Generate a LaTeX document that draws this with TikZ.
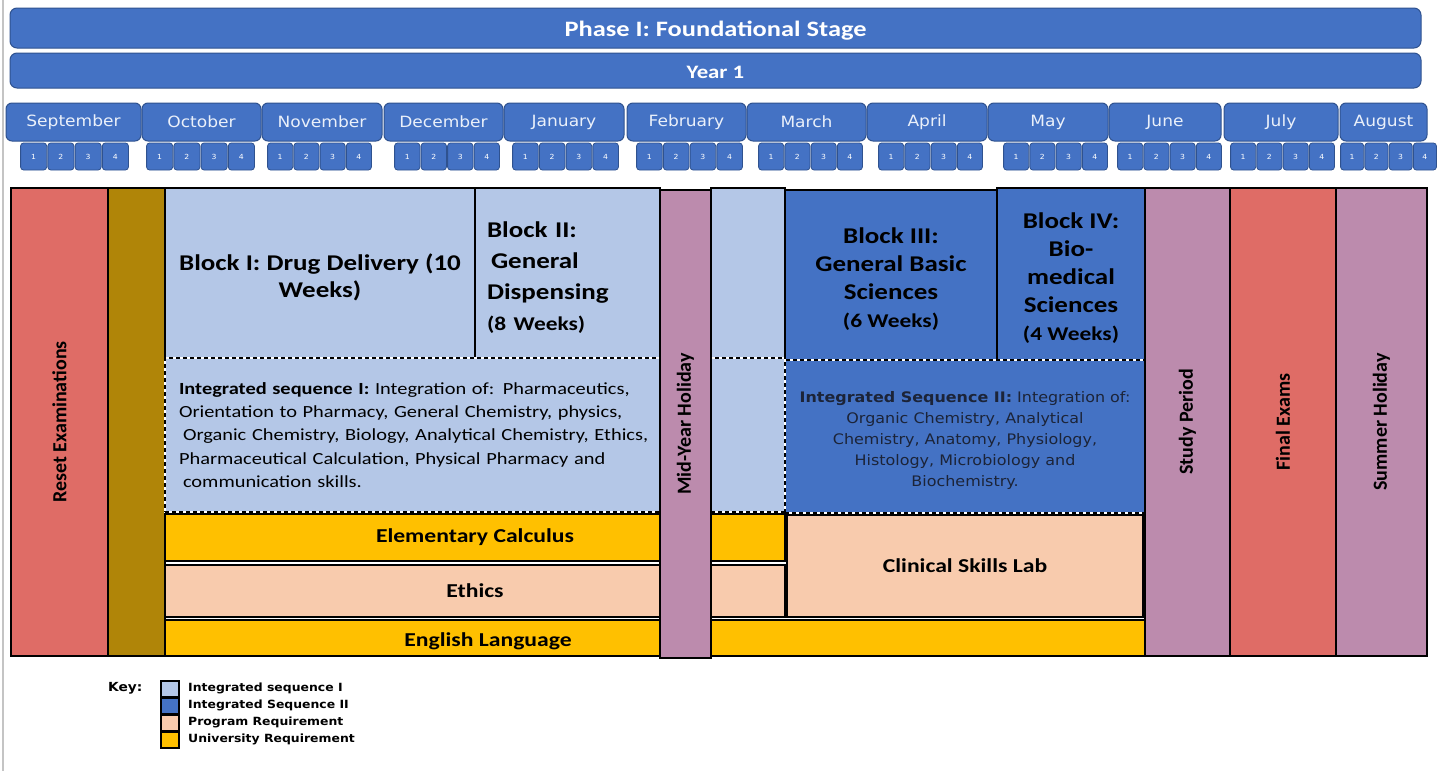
\documentclass[tikz,border=0pt]{standalone}
\usepackage{fontspec}
\setmainfont{Carlito}[FakeStretch=1.2]
\newfontfamily\rotf{Carlito}
\newfontfamily\dvf{DejaVu Sans}[FakeStretch=1.1]
\definecolor{hblue}{HTML}{4472C4}
\definecolor{hborder}{HTML}{2F528F}
\definecolor{lblue}{HTML}{B4C7E7}
\definecolor{dblue}{HTML}{4472C4}
\definecolor{peach}{HTML}{F8CBAD}
\definecolor{gold}{HTML}{FFC000}
\definecolor{salmon}{HTML}{DF6C66}
\definecolor{olivec}{HTML}{B08508}
\definecolor{mauve}{HTML}{BC8BAD}
\definecolor{montext}{HTML}{EAF0FA}
\definecolor{seqtext}{HTML}{1C2438}
\definecolor{edgegray}{HTML}{C4C4C4}
\newcommand{\fsz}[2]{\fontsize{#1}{#2}\selectfont}
\newcommand{\cellat}[7]{\node[#2, minimum width={#5-#3}, minimum height={#6-#4}] (#1) at (#3,#4) {#7};}
\begin{document}
\begin{tikzpicture}[x=1pt,y=-1pt,
  cell/.style={draw=black, line width=1.2pt, inner sep=0pt, outer sep=0pt, anchor=north west, align=center},
  dcell/.style={cell, draw=white, line width=1.4pt, postaction={draw=black, line width=1.2pt, dash pattern=on 4pt off 3pt}},
  hdr/.style={draw=hborder, fill=hblue, line width=1pt, rounded corners=7pt, inner sep=0pt, outer sep=0pt, anchor=north west, text=white},
  mon/.style={hdr, rounded corners=6pt, text=montext, font=\dvf\fsz{15.5}{18}},
  wk/.style={draw=hborder, fill=hblue, line width=0.8pt, rounded corners=3pt, inner sep=0pt, outer sep=0pt, anchor=north west, text=white, font=\dvf\fsz{7}{8}},
  rotlab/.style={rotate=90, font=\rotf\bfseries\fsz{20}{24}, inner sep=0pt},
  txt/.style={inner sep=0pt, align=center},
  blockfont/.style={font=\bfseries\fsz{22.5}{28}},
  barfont/.style={font=\bfseries\fsz{19.7}{24}},
  keybox/.style={draw=black, line width=1.2pt, inner sep=0pt, outer sep=0pt, anchor=north west},
  keytext/.style={anchor=west, inner sep=0pt, font=\dvf\bfseries\fsz{11.3}{13}, text=black}
]
\useasboundingbox (0,0) rectangle (1437,771);
\fill[white] (0,0) rectangle (1437,771);
\draw[edgegray, line width=2pt] (2.5,0) -- (2.5,771);

% headers
\cellat{phase}{hdr}{10}{8}{1421}{48}{}
\node[txt, text=white, font=\bfseries\fsz{22}{26}] (phaset) at ([yshift=-3pt]phase.center) {Phase I: Foundational Stage};
\cellat{year}{hdr}{10}{53}{1421}{88}{}
\node[txt, text=white, font=\bfseries\fsz{19}{22}] (yeart) at ([yshift=-2pt]year.center) {Year 1};

% months
\foreach \a/\b/\lab [count=\i] in {6/141/September,142/261/October,262/382/November,384/503/December,504/624/January,627/746/February,747/866/March,867/987/April,988/1108/May,1109/1221/June,1224/1338/July,1340/1427/August}{
  \cellat{m\i}{mon}{\a}{103}{\b}{141}{\lab}
}
% weeks
\foreach \s/\e [count=\i] in {20/129,146/255,267/372,394/500,512/619,636/743,758/863,878/983,1003/1108,1117/1222,1230/1335,1340/1437}{
  \foreach \k in {1,...,4}{
    \pgfmathsetmacro{\xa}{\s+(\k-1)*(\e-\s)/4+0.6}
    \pgfmathsetmacro{\xb}{\s+\k*(\e-\s)/4-0.6}
    \cellat{w\i-\k}{wk}{\xa}{143}{\xb}{170}{\k}
  }
}

% left columns
\cellat{reset}{cell, fill=salmon}{11}{188}{108}{656}{}
\node[rotlab] (resetl) at (reset.center) {Reset Examinations};
\cellat{olive}{cell, fill=olivec}{108}{188}{165}{656}{}

% Integrated sequence I area
\cellat{blk1}{cell, fill=lblue}{165}{188}{475}{358}{}
\node[txt, font=\bfseries\fsz{22.5}{27}] (blk1t) at ([yshift=-4pt]blk1.center) {Block I: Drug Delivery (10\\Weeks)};
\cellat{blk2}{cell, fill=lblue}{475}{188}{660}{358}{}
\node[txt, align=left, text width=161pt, font=\bfseries\fsz{22.5}{31}] (blk2t) at ([yshift=-5pt]blk2.center) {Block II:\\\hspace*{4pt}General\\Dispensing\\{\fsz{19.5}{24}(8 Weeks)}};
\cellat{lbcol}{cell, fill=lblue}{711}{188}{785}{358}{}
\cellat{seq1}{dcell, fill=lblue}{165}{358}{785}{512}{}
\node[txt, align=left, text width=592pt, font=\fsz{17}{23.3}] (seq1t) at (seq1.center) {\textbf{Integrated sequence I:} Integration of: Pharmaceutics,\\Orientation to Pharmacy, General Chemistry, physics,\\\hspace*{4pt}Organic Chemistry, Biology, Analytical Chemistry, Ethics,\\Pharmaceutical Calculation, Physical Pharmacy and\\\hspace*{4pt}communication skills.};

% Integrated sequence II area
\cellat{blk3}{cell, fill=dblue}{785}{190}{997}{360}{}
\node[txt, blockfont] (blk3t) at ([yshift=-4pt]blk3.center) {Block III:\\General Basic\\Sciences\\{\fsz{19.5}{26}(6 Weeks)}};
\cellat{blk4}{cell, fill=dblue}{997}{188}{1145}{360}{}
\node[txt, blockfont] (blk4t) at ([yshift=-4pt]blk4.center) {Block IV:\\Bio-\\medical\\Sciences\\{\fsz{19.5}{26}(4 Weeks)}};
\cellat{seq2}{dcell, fill=dblue}{785}{360}{1145}{513}{}
\node[txt, text=seqtext, font=\dvf\fsz{14.5}{20.8}] (seq2t) at ([yshift=-4pt]seq2.center) {\textbf{Integrated Sequence II:} Integration of:\\Organic Chemistry, Analytical\\Chemistry, Anatomy, Physiology,\\Histology, Microbiology and\\Biochemistry.};

% bars
\cellat{calc}{cell, fill=gold, barfont}{165}{514}{785}{561}{Elementary Calculus}
\cellat{ethics}{cell, fill=peach, barfont}{165}{565}{785}{617}{Ethics}
\cellat{clin}{cell, fill=peach, barfont}{787}{515}{1143}{617}{Clinical Skills Lab}
\cellat{eng}{cell, fill=gold}{165}{620}{1145}{656}{}
\node[barfont, inner sep=0pt] (engl) at (488,641) {English Language};

% holiday / exam columns
\cellat{mid}{cell, fill=mauve}{660}{190}{711}{658}{}
\node[rotlab] (midl) at (mid.center) {Mid-Year Holiday};
\cellat{study}{cell, fill=mauve}{1145}{188}{1230}{656}{}
\node[rotlab] (studyl) at (study.center) {Study Period};
\cellat{final}{cell, fill=salmon}{1230}{188}{1336}{656}{}
\node[rotlab] (finall) at (final.center) {Final Exams};
\cellat{summer}{cell, fill=mauve}{1336}{188}{1427}{656}{}
\node[rotlab] (summerl) at (summer.center) {Summer Holiday};

% key
\node[anchor=west, inner sep=0pt, font=\dvf\bfseries\fsz{12.5}{14}] (key) at (108,688) {Key:};
\cellat{k1}{keybox, fill=lblue}{161}{681}{179}{697}{}
\cellat{k2}{keybox, fill=dblue}{161}{698}{179}{714}{}
\cellat{k3}{keybox, fill=peach}{161}{715}{179}{731}{}
\cellat{k4}{keybox, fill=gold}{161}{732}{179}{748}{}
\node[keytext] (k1t) at (188,688) {Integrated sequence I};
\node[keytext] (k2t) at (188,705) {Integrated Sequence II};
\node[keytext] (k3t) at (188,722) {Program Requirement};
\node[keytext] (k4t) at (188,739) {University Requirement};
\end{tikzpicture}
\end{document}
